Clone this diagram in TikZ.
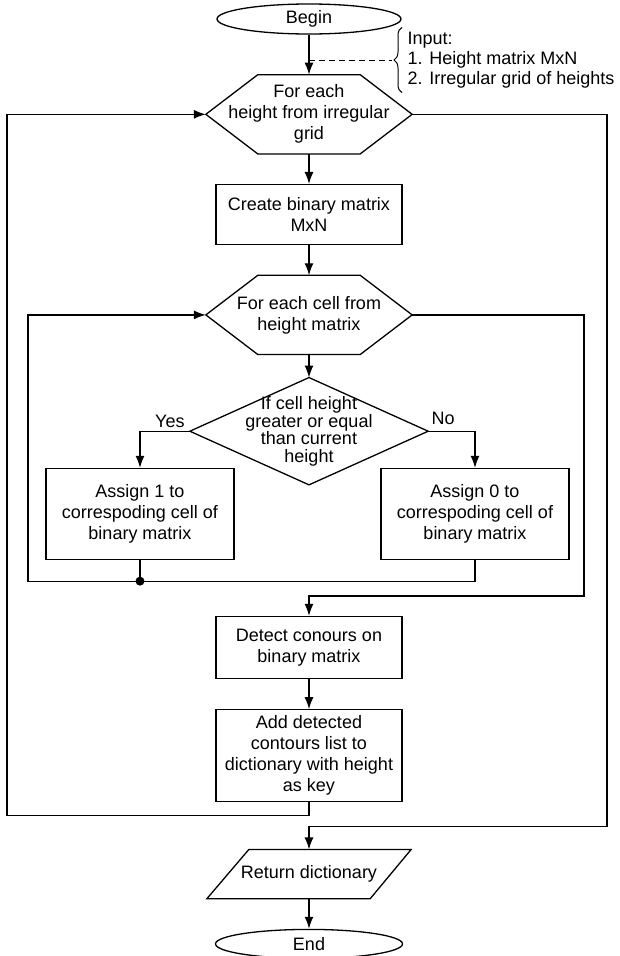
\documentclass[tikz,border=0pt]{standalone}
\usepackage{fontspec}
\setmainfont{Liberation Sans}
\usepackage{tikz}
\usetikzlibrary{shapes.geometric,arrows.meta,positioning,decorations.pathreplacing}
\tikzset{terminal/.style={ellipse, draw, minimum width=184pt, minimum height=30pt, inner sep=0pt}}
\tikzset{block/.style={rectangle, draw, align=center, minimum width=186pt}}
\tikzset{loopbox/.style={rectangle, align=center, minimum width=205pt, minimum height=78pt}}
\tikzset{decision/.style={rectangle, align=center, minimum width=237pt, minimum height=106pt,
 font=\fontsize{18pt}{17.5pt}\selectfont}}
\tikzset{io/.style={rectangle, align=center, minimum width=203pt, minimum height=48pt}}
\tikzset{line/.style={draw, -{Latex[length=12pt,width=9pt]}}}

\begin{document}
\begin{tikzpicture}[font=\fontsize{18pt}{21pt}\selectfont, line width=1.3pt]
        \useasboundingbox (0,0) rectangle (619pt,-956pt);
        \node[terminal] (start) at (309pt,-19pt) {Begin};
        \node[anchor=west, align=left, inner sep=0pt, font=\fontsize{18pt}{20pt}\selectfont]
              (input) at (407pt,-60pt) {Input:\\1. Height matrix MxN\\2. Irregular grid of heights};
        \node[loopbox, below=40pt of start]   (hexh){For each\\height from irregular\\grid};
        \node[block, minimum height=60pt, below=30pt of hexh]   (create){Create binary matrix\\MxN};
        \node[loopbox, below=30pt of create]  (hexc){For each cell from\\height matrix};
        \node[decision, below=23pt of hexc]   (cond){If cell height\\greater or equal\\than current\\height};
        \node[block, minimum width=188pt, minimum height=91pt, below=-17pt of cond, xshift=-169pt]
              (one){Assign 1 to\\correspoding cell of\\binary matrix};
        \node[block, minimum width=188pt, minimum height=91pt, below=-17pt of cond, xshift=166pt]
              (zero){Assign 0 to\\correspoding cell of\\binary matrix};
        \node[block, minimum height=62pt, below=131pt of cond]  (detect){Detect conours on\\binary matrix};
        \node[block, minimum height=92pt, below=30pt of detect] (add){Add detected\\contours list to\\dictionary with height\\as key};
        \node[io, below=47pt of add]          (ret){Return dictionary};
        \node[terminal, minimum width=187pt, minimum height=29pt, below=30pt of ret] (stop){End};

        % outlines of the loop and io shapes
        \foreach \h in {hexh,hexc}
          \draw (\h.west) -- ([xshift=52pt]\h.north west) -- ([xshift=-52pt]\h.north east)
                -- (\h.east) -- ([xshift=-52pt]\h.south east) -- ([xshift=52pt]\h.south west) -- cycle;
        \draw (cond.north) -- (cond.east) -- (cond.south) -- (cond.west) -- cycle;
        \draw (ret.south west) -- ([xshift=-41pt]ret.south east) -- (ret.north east)
              -- ([xshift=42pt]ret.north west) -- cycle;

        % input brace
        \draw[line width=1pt, decorate, decoration={brace, amplitude=8pt}]
              ([xshift=-5pt,yshift=-4pt]input.south west) -- ([xshift=-5pt,yshift=4pt]input.north west);
        \coordinate (brace) at ([xshift=-15pt]input.west);
        \draw[line width=1pt, dash pattern=on 6pt off 4pt] (start.south |- brace) -- (brace);

        \coordinate (inL) at (28pt,0);
        \coordinate (outL) at (7pt,0);
        \coordinate (inR) at (584pt,0);
        \coordinate (outR) at (607pt,0);
        \coordinate (joint) at ([yshift=-21pt]one.south);

        \path[line] (start) --  (hexh);
        \path[line] (hexh) --   (create);
        \path[line] (create) -- (hexc);
        \path[line] (hexc) --   (cond);
        \path[line] (cond.west) -| node[pos=0.2, above]{Yes} (one.north);
        \path[line] (cond.east) -| node[pos=0.16, above, yshift=3pt]{No} (zero.north);
        \draw (one.south) -- (joint);
        \fill (joint) circle (4.5pt);
        \path[line] (zero.south) |- (joint) -| (inL |- hexc.west) -- (hexc.west);
        \path[line] (hexc.east) -| ([yshift=20pt]detect.north -| inR) -- ([yshift=20pt]detect.north) -- (detect.north);
        \path[line] (detect) -- (add);
        \path[line] (add.south) -- ++(0,-13pt) -| (outL |- hexh.west) -- (hexh.west);
        \path[line] (hexh.east) -| ([yshift=23pt]ret.north -| outR) -- ([yshift=23pt]ret.north) -- (ret.north);
        \path[line] (ret) -- (stop);

      \end{tikzpicture}
\end{document}
